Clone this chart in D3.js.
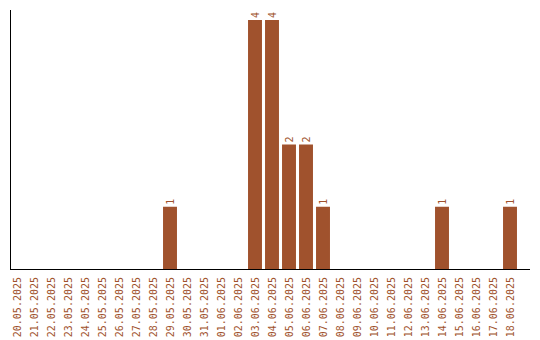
<!DOCTYPE html>
<html><head><meta charset="utf-8">
<script src="https://cdn.jsdelivr.net/npm/d3@7"></script>
<style>body{margin:0;background:#fff}</style>
</head><body>
<svg id="c" width="540" height="340"></svg>
<script>
const dates = ["20.05.2025","21.05.2025","22.05.2025","23.05.2025","24.05.2025","25.05.2025","26.05.2025","27.05.2025","28.05.2025","29.05.2025","30.05.2025","31.05.2025","01.06.2025","02.06.2025","03.06.2025","04.06.2025","05.06.2025","06.06.2025","07.06.2025","08.06.2025","09.06.2025","10.06.2025","11.06.2025","12.06.2025","13.06.2025","14.06.2025","15.06.2025","16.06.2025","17.06.2025","18.06.2025"];
const counts = [0,0,0,0,0,0,0,0,0,1,0,0,0,0,4,4,2,2,1,0,0,0,0,0,0,1,0,0,0,1];
const color = "#a0522d";

const svg = d3.select("#c");
const x = d3.scaleBand().domain(dates).range([8.5, 518.5]).paddingInner(0.18).paddingOuter(0.09);
const y = d3.scaleLinear().domain([0, 4]).range([269, 20]);

svg.selectAll("rect.bar").data(dates).enter().append("rect")
  .attr("class","bar")
  .attr("x", d => x(d))
  .attr("width", x.bandwidth())
  .attr("y", (d,i) => y(counts[i]))
  .attr("height", (d,i) => y(0) - y(counts[i]))
  .attr("fill", color);

svg.selectAll("text.val").data(dates.filter((d,i)=>counts[i]>0)).enter().append("text")
  .attr("class","val")
  .attr("transform", d => `translate(${x(d)+x.bandwidth()/2+3.5},${y(counts[dates.indexOf(d)])-2}) rotate(-90)`)
  .attr("font-family","DejaVu Sans Mono, monospace")
  .attr("font-size", 10)
  .attr("fill", color)
  .text(d => counts[dates.indexOf(d)]);

// axes
svg.append("line").attr("x1",10.5).attr("x2",10.5).attr("y1",10).attr("y2",269.5).attr("stroke","#000");
svg.append("line").attr("x1",10).attr("x2",530).attr("y1",269.5).attr("y2",269.5).attr("stroke","#000");

svg.selectAll("text.lab").data(dates).enter().append("text")
  .attr("class","lab")
  .attr("transform", d => `translate(${x(d)+x.bandwidth()/2+3.5},277) rotate(-90)`)
  .attr("text-anchor","end")
  .attr("font-family","DejaVu Sans Mono, monospace")
  .attr("font-size", 10)
  .attr("fill", color)
  .text(d => d);
</script>
</body></html>
